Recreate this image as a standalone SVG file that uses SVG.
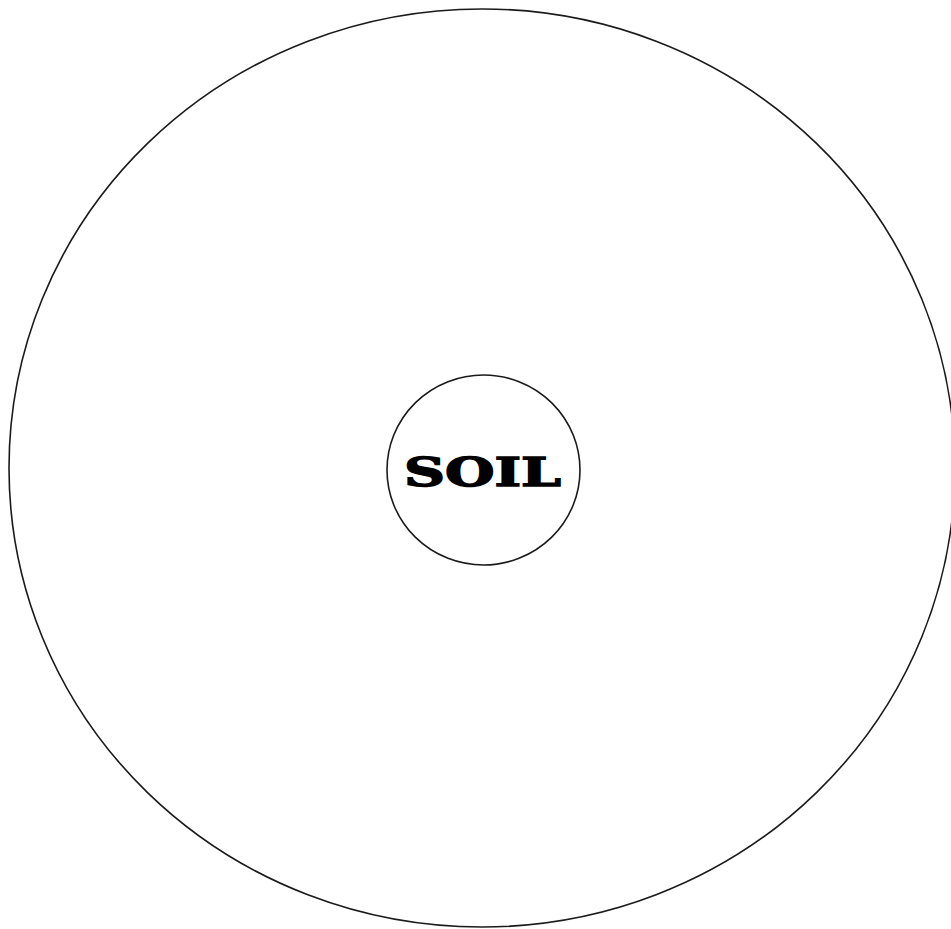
<svg xmlns="http://www.w3.org/2000/svg" width="951" height="929" viewBox="0 0 951 929">
<style>
.ring{fill:none;stroke:#1a1a1a;stroke-width:1.6}
.lbl{font-family:"DejaVu Serif","Liberation Serif",serif;font-weight:bold;font-size:40px;fill:#000;stroke:#000;stroke-width:1.5}
</style>
<rect width="951" height="929" fill="#fff"/>
<g id="outer"><ellipse class="ring" cx="482" cy="468" rx="473" ry="459"/></g>
<g id="soil">
<ellipse class="ring" cx="483.5" cy="470" rx="96.5" ry="95"/>
<text class="lbl" x="404" y="486" textLength="157" lengthAdjust="spacingAndGlyphs">SOIL</text>
</g>
<g id="connectors"></g>
</svg>
